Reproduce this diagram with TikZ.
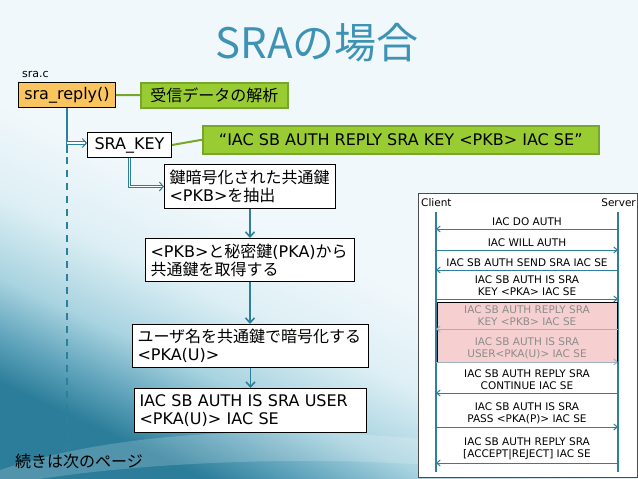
\documentclass[tikz,border=0pt]{standalone}
\usepackage{fontspec}
\setmainfont{DejaVu Sans}
\newfontfamily\jp{Noto Sans CJK JP}
\usetikzlibrary{arrows.meta}
\definecolor{tealline}{HTML}{2E7F99}
\definecolor{titlec}{HTML}{3E93B5}
\definecolor{greenf}{HTML}{99CC33}
\definecolor{greend}{HTML}{77A62A}
\definecolor{orangef}{HTML}{FAC55F}
\definecolor{pinkf}{HTML}{F6D0D0}
\definecolor{grayt}{HTML}{8C8C8C}
\definecolor{grayline}{HTML}{9DB4BC}
\definecolor{bgc}{HTML}{F1F8FB}
\definecolor{bgm1}{HTML}{DDEFF5}
\definecolor{bgm2}{HTML}{A8D3E0}
\definecolor{bgm3}{HTML}{5FA3BB}
\definecolor{bgdark}{HTML}{2B7D99}
\pgfdeclareverticalshading{bgwave}{100bp}{color(0bp)=(bgdark); color(25bp)=(bgdark); color(29bp)=(bgm3); color(34bp)=(bgm2); color(41bp)=(bgm1); color(49bp)=(bgc); color(100bp)=(bgc)}
\begin{document}
\begin{tikzpicture}[x=1pt,y=-1pt,
  box/.style={draw=black, line width=1pt, fill=white, font=\fontsize{16}{18}\selectfont,
    anchor=north west, inner xsep=5pt, inner ysep=2pt, align=left},
  callout/.style={draw=greend, line width=1.5pt, fill=greenf, font=\fontsize{16}{18}\selectfont,
    anchor=north west, inner sep=0pt},
  glink/.style={draw=greend, line width=2pt},
  flow/.style={draw=tealline, line width=1.8pt, -{Straight Barb[length=5pt,width=9pt,line width=1.6pt]}},
  dbl/.style={draw=tealline, double=white, double distance=1.5pt, line width=0.9pt,
    -{Straight Barb[length=4pt,width=9pt,line width=1pt]}},
  msg/.style={font=\fontsize{10.5}{12}\selectfont, align=center, inner xsep=1pt, inner ysep=3pt, anchor=south},
  msggray/.style={msg, text=grayt},
  arrR/.style={draw=tealline, line width=1pt, -{Straight Barb[length=3.5pt,width=6pt,line width=1pt]}},
  arrG/.style={draw=grayline, line width=1pt, -{Straight Barb[length=3.5pt,width=6pt,line width=1pt]}},
  life/.style={draw=tealline, line width=1.2pt},
  trunkline/.style={draw=tealline, line width=2pt}
]
\useasboundingbox (0,0) rectangle (638,479);
% background
\shade[shading=bgwave, shading angle=-25] (0,0) rectangle (638,479);
\fill[white, opacity=0.18] (0,470) .. controls (120,430) and (280,425) .. (430,440) -- (430,465) .. controls (280,455) and (130,465) .. (40,479) -- (0,479) -- cycle;

% title
\node[font=\jp\fontsize{42}{42}\selectfont, text=titlec, anchor=base] (title) at (317,58) {SRAの場合};

% left flow
\node[font=\fontsize{11}{12}\selectfont, anchor=west, inner sep=0pt] (file) at (22,74) {sra.c};
\node[box, fill=orangef, minimum width=97pt, minimum height=25pt, inner sep=0pt] (reply) at (18,82) {sra\_reply()};
\node[callout, minimum width=147pt, minimum height=25pt] (g1) at (140,82) {\jp 受信データの解析};
\draw[glink] (reply.east) -- (g1.west);

\node[box, minimum width=84pt, minimum height=25pt, inner sep=0pt] (key) at (87,132) {SRA\_KEY};
\node[callout, minimum width=396pt, minimum height=28pt] (g2) at (202,125) {“IAC SB AUTH REPLY SRA KEY <PKB> IAC SE”};
\draw[glink] (key.east) -- (g2.west);

\node[box, text width=161pt, minimum height=44pt] (b3) at (164,164) {{\jp 鍵暗号化された共通鍵}\\<PKB>{\jp を抽出}};
\node[box, text width=199pt, minimum height=43pt] (b4) at (145,238) {<PKB>{\jp と秘密鍵}(PKA){\jp から}\\{\jp 共通鍵を取得する}};
\node[box, text width=226pt, minimum height=43pt] (b5) at (132,324) {{\jp ユーザ名を共通鍵で暗号化する}\\<PKA(U)>};
\node[box, text width=222pt, minimum height=44pt] (b6) at (134,388) {IAC SB AUTH IS SRA USER\\<PKA(U)> IAC SE};

\node[font=\jp\fontsize{16}{18}\selectfont, anchor=west, inner sep=0pt] (next) at (15,461) {続きは次のページ};

\coordinate (trunk) at ([yshift=2pt]reply.south |- key.west);
\coordinate (trunkmid) at (67,153);
\coordinate (trunkend) at (67,452);
\draw[trunkline] (reply.south -| trunkmid) -- (trunkmid);
\draw[trunkline, dash pattern=on 7pt off 6pt, -{Straight Barb[length=5pt,width=9pt,line width=1.6pt]}] ([yshift=-4pt]trunkmid) -- (trunkend);
\draw[dbl] (trunk) -- (trunk -| key.west);
\draw[dbl] (key.south) |- (b3.west);
\draw[flow] (b3.south) -- (b3.south |- b4.north);
\draw[flow] (b4.south) -- (b4.south |- b5.north);
\draw[flow] (b5.south) -- (b5.south |- b6.north);

% sequence diagram
\node[draw=black!70, line width=0.8pt, fill=white, minimum width=219pt, minimum height=284pt, anchor=north west, inner sep=0pt] (seq) at (418,193) {};
\node[font=\fontsize{10.5}{12}\selectfont, anchor=west, inner sep=0pt] (client) at (421,203) {Client};
\node[font=\fontsize{10.5}{12}\selectfont, anchor=east, inner sep=0pt] (server) at (636,203) {Server};
\coordinate (cl) at (436,212);
\coordinate (clb) at (436,472);
\coordinate (sv) at (618,212);
\coordinate (svb) at (618,472);
\draw[life] (cl) -- (clb);
\draw[life] (sv) -- (svb);
\node[draw=black, line width=0.8pt, fill=pinkf, minimum width=180pt, minimum height=60pt, anchor=north west, inner sep=0pt] (hl) at (437,302) {};

\node[msg] (m1) at (527,229) {IAC DO AUTH};
\draw[arrR] (m1.south -| sv) -- (m1.south -| cl);
\node[msg] (m2) at (527,250) {IAC WILL AUTH};
\draw[arrR] (m2.south -| cl) -- (m2.south -| sv);
\node[msg] (m3) at (527,270) {IAC SB AUTH SEND SRA IAC SE};
\draw[arrR] (m3.south -| sv) -- (m3.south -| cl);
\node[msg] (m4) at (527,299) {IAC SB AUTH IS SRA\\KEY <PKA> IAC SE};
\draw[arrR] (m4.south -| cl) -- (m4.south -| sv);
\node[msggray] (m5) at (527,329) {IAC SB AUTH REPLY SRA\\KEY <PKB> IAC SE};
\draw[arrG] (m5.south -| sv) -- (m5.south -| cl);
\node[msggray] (m6) at (527,362) {IAC SB AUTH IS SRA\\USER<PKA(U)> IAC SE};
\draw[arrG] (m6.south -| cl) -- (m6.south -| sv);
\node[msg] (m7) at (527,393) {IAC SB AUTH REPLY SRA\\CONTINUE IAC SE};
\draw[arrR] (m7.south -| sv) -- (m7.south -| cl);
\node[msg] (m8) at (527,427) {IAC SB AUTH IS SRA\\PASS <PKA(P)> IAC SE};
\draw[arrR] (m8.south -| cl) -- (m8.south -| sv);
\node[msg] (m9) at (527,463) {IAC SB AUTH REPLY SRA\\{[ACCEPT|REJECT]} IAC SE};
\draw[arrR] (m9.south -| sv) -- (m9.south -| cl);
\end{tikzpicture}
\end{document}
